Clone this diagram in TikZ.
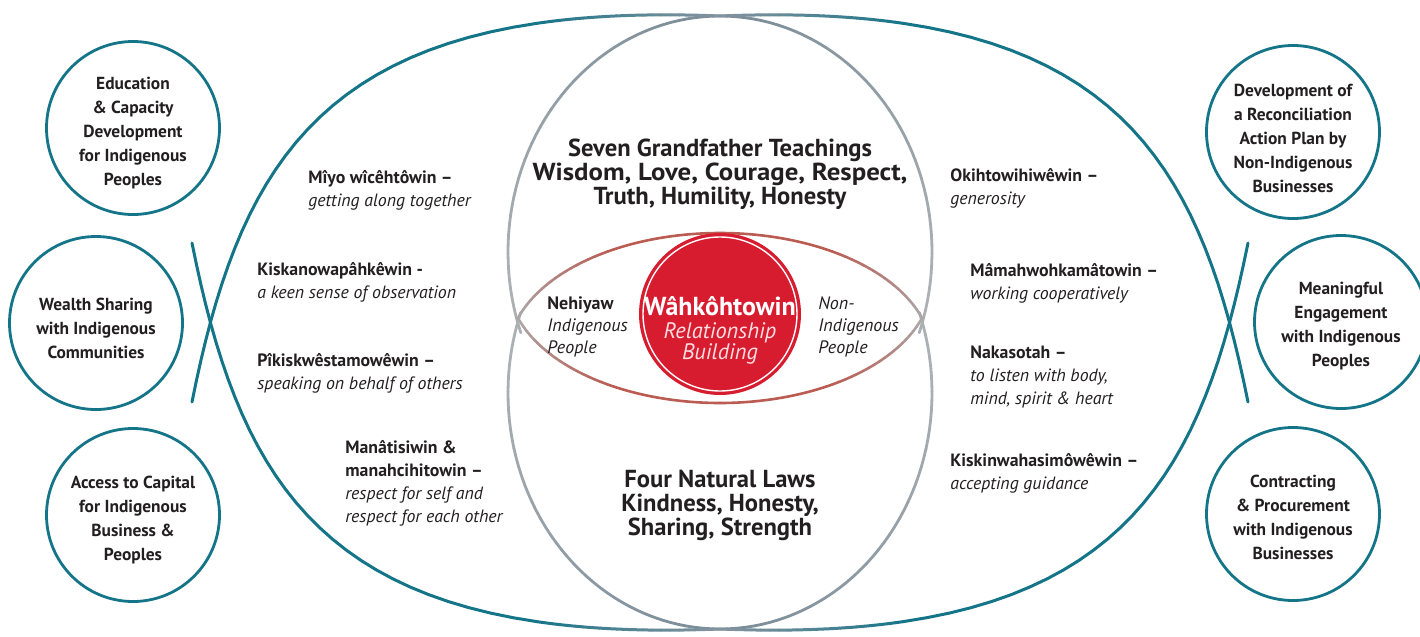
\documentclass[tikz,border=0pt]{standalone}
\usepackage{graphicx}
\usepackage{fontspec}
\setmainfont{PT Sans}
\definecolor{tealc}{RGB}{20,116,136}
\definecolor{capgrey}{RGB}{128,146,156}
\definecolor{greyc}{RGB}{172,176,180}
\definecolor{bluegrey}{RGB}{122,140,152}
\definecolor{lensgrey}{RGB}{172,170,172}
\definecolor{lensred}{RGB}{186,92,82}
\definecolor{redc}{RGB}{215,28,48}
\definecolor{txt}{RGB}{35,31,32}
\definecolor{pinkw}{RGB}{252,222,224}
\newcommand\setbez[8]{%
  \def\fx{(1-\x)^3*(#1)+3*(1-\x)^2*\x*(#3)+3*(1-\x)*\x^2*(#5)+\x^3*(#7)}%
  \def\fy{(1-\x)^3*(#2)+3*(1-\x)^2*\x*(#4)+3*(1-\x)*\x^2*(#6)+\x^3*(#8)}}
\newcommand\setell[4]{%
  \def\fx{#1+(#3)*cos(\x)}\def\fy{#2+(#4)*sin(\x)}}
\newcommand\gradcurve[7]{%
  \draw[cstyle,color=#5] plot[domain=#1:#2,samples=30] ({\fx},{\fy});
  \foreach \k in {1,...,#7}{%
    \pgfmathsetmacro\ta{#2+(#3-#2)*(\k-1)/#7}%
    \pgfmathsetmacro\tb{#2+(#3-#2)*\k/#7}%
    \pgfmathtruncatemacro\pc{100-100*(\k-0.5)/#7}%
    \draw[cstyle,color=#5!\pc!#6] plot[domain=\ta:\tb,samples=3] ({\fx},{\fy});
  }%
  \draw[cstyle,color=#6] plot[domain=#3:#4,samples=30] ({\fx},{\fy});
}
\begin{document}
\begin{tikzpicture}[x=0.5pt,y=-0.5pt,
  smallcirc/.style={circle,draw=tealc,line width=1.4pt,fill=white,minimum size=86.5pt,inner sep=0pt},
  circtext/.style={align=center,text=txt,font=\fontsize{8.7}{12}\selectfont\bfseries,inner sep=0pt},
  lbl/.style={align=left,text=txt,font=\fontsize{8.9}{11.5}\selectfont,inner sep=0pt,anchor=west},
  bigtext/.style={align=center,text=txt,font=\fontsize{12.3}{12}\selectfont\bfseries,inner sep=0pt}]
\useasboundingbox (0,0) rectangle (1420,637);
% grey circles
\tikzset{cstyle/.style={line width=1.4pt,line cap=round}}
\setell{720}{252}{212}{236}\gradcurve{160}{175}{268}{270}{greyc}{bluegrey}{20}
\setell{720}{252}{-212}{236}\gradcurve{160}{175}{268}{270}{greyc}{bluegrey}{20}
\setell{720}{393}{212}{-236}\gradcurve{160}{175}{268}{270}{greyc}{bluegrey}{20}
\setell{720}{393}{-212}{-236}\gradcurve{160}{175}{268}{270}{greyc}{bluegrey}{20}
% big teal arcs
\tikzset{cstyle/.style={line width=1.5pt,line cap=round}}
\setbez{192}{243}{242}{493}{330}{645}{720}{629}\gradcurve{0}{0.82}{0.99}{1}{tealc}{capgrey}{20}
\setbez{192}{402}{242}{152}{330}{0}{720}{16}\gradcurve{0}{0.82}{0.99}{1}{tealc}{capgrey}{20}
\setbez{1248}{402}{1198}{152}{1110}{0}{720}{16}\gradcurve{0}{0.82}{0.99}{1}{tealc}{capgrey}{20}
\setbez{1248}{243}{1198}{493}{1110}{645}{720}{629}\gradcurve{0}{0.82}{0.99}{1}{tealc}{capgrey}{20}
% lens
\tikzset{cstyle/.style={line width=1.3pt,line cap=round}}
\setell{720}{355}{212}{122}\gradcurve{197.65}{198}{240}{270}{lensgrey}{lensred}{20}
\setell{720}{355}{-212}{122}\gradcurve{197.65}{198}{240}{270}{lensgrey}{lensred}{20}
\setell{720}{281}{212}{-122}\gradcurve{197.65}{198}{240}{270}{lensgrey}{lensred}{20}
\setell{720}{281}{-212}{-122}\gradcurve{197.65}{198}{240}{270}{lensgrey}{lensred}{20}
% red circle
\node[circle,fill=redc,minimum size=81pt,inner sep=0pt] (red) at (720,314) {};
\draw[white,line width=0.7pt] (red.center) circle[radius=77];
\node[text=white,font=\fontsize{13}{14}\selectfont\bfseries,inner sep=0pt] (wah) at (720,306) {Wâhkôhtowin};
\node[text=pinkw,font=\fontsize{11.2}{10.5}\selectfont\itshape,align=center,inner sep=0pt] (rel) at (720,343) {Relationship\\Building};
% centre texts
\node[bigtext] (seven) at (720,174) {Seven Grandfather Teachings\\\scalebox{1.09}[1]{Wisdom, Love, Courage, Respect,}\\Truth, Humility, Honesty};
\node[bigtext] (four) at (720,505) {Four Natural Laws\\Kindness, Honesty,\\Sharing, Strength};
\node[lbl,font=\fontsize{9}{11}\selectfont] (neh) at (547,327) {\textbf{Nehiyaw}\\\textit{Indigenous}\\\textit{People}};
\node[lbl,font=\fontsize{9}{11}\selectfont] (non) at (818,327) {\textit{Non-}\\\textit{Indigenous}\\\textit{People}};
% left teachings
\node[lbl] (t1) at (308,190.5) {\textbf{Mîyo wîcêhtôwin –}\\\textit{getting along together}};
\node[lbl] (t2) at (257,282) {\textbf{Kiskanowapâhkêwin -}\\\textit{a keen sense of observation}};
\node[lbl] (t3) at (257,373) {\textbf{Pîkiskwêstamowêwin –}\\\textit{speaking on behalf of others}};
\node[lbl] (t4) at (345,483) {\textbf{Manâtisiwin \&}\\\textbf{manahcihitowin –}\\\textit{respect for self and}\\\textit{respect for each other}};
% right teachings
\node[lbl] (t5) at (950,188.5) {\textbf{Okihtowihiwêwin –}\\\textit{generosity}};
\node[lbl] (t6) at (970,283) {\textbf{Mâmahwohkamâtowin –}\\\textit{working cooperatively}};
\node[lbl] (t7) at (970,377) {\textbf{Nakasotah –}\\\textit{to listen with body,}\\\textit{mind, spirit \& heart}};
\node[lbl] (t8) at (950,473) {\textbf{Kiskinwahasimôwêwin –}\\\textit{accepting guidance}};
% small circles
\node[smallcirc] (edu) at (133,128) {};
\node[circtext] (edut) at (133,133) {Education\\\& Capacity\\Development\\for Indigenous\\Peoples};
\node[smallcirc] (wea) at (96,323) {};
\node[circtext] (weat) at (96,328) {Wealth Sharing\\with Indigenous\\Communities};
\node[smallcirc] (acc) at (133,515) {};
\node[circtext] (acct) at (133,520) {Access to Capital\\for Indigenous\\Business \&\\Peoples};
\node[smallcirc] (dev) at (1293,132) {};
\node[circtext] (devt) at (1293,138) {Development of\\a Reconciliation\\Action Plan by\\Non-Indigenous\\Businesses};
\node[smallcirc] (mea) at (1341,322) {};
\node[circtext] (meat) at (1341,326) {Meaningful\\Engagement\\with Indigenous\\Peoples};
\node[smallcirc] (con) at (1293,514) {};
\node[circtext] (cont) at (1293,517) {Contracting\\\& Procurement\\with Indigenous\\Businesses};
\end{tikzpicture}
\end{document}
